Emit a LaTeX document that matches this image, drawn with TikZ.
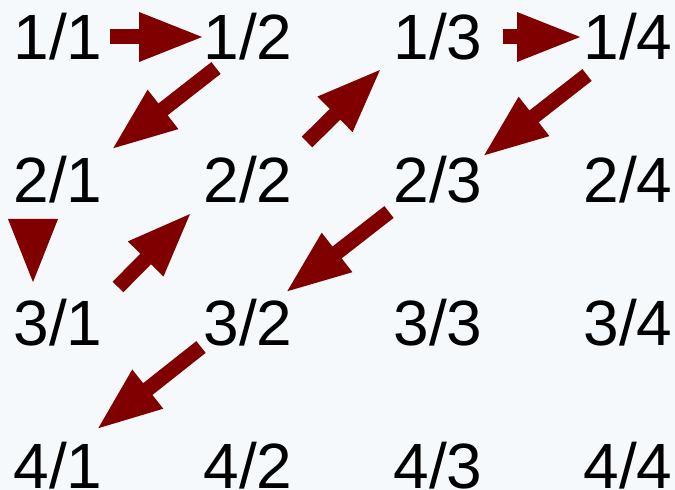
\documentclass[tikz,border=0pt]{standalone}
\usepackage{fontspec}
\setmainfont{Liberation Sans}
\usetikzlibrary{arrows.meta,calc}
\definecolor{arrowred}{RGB}{128,0,0}
\definecolor{paper}{RGB}{245,249,251}
\tikzset{
  frac/.style={inner sep=0pt, font=\fontsize{64}{64}\selectfont},
  blockarrow/.style={draw=arrowred, line width=15pt,
    -{Triangle[width=45pt,length=66pt,fill=arrowred]}}
}
\begin{document}
\begin{tikzpicture}[x=1pt,y=1pt]
        \fill[paper] (0,0) rectangle (675,490);
        \useasboundingbox (0,0) rectangle (675,490);
        \foreach \r in {1,...,4}
          \foreach \c in {1,...,4}
            \node[frac] (n\r\c) at ({58+190*(\c-1)},{453-143*(\r-1)}) {\r/\c};
        \draw[blockarrow] ($(n11)+(52,0)$) -- ($(n12)+(-43,0)$);
        \draw[blockarrow] ($(n12)+(-32,-31)$) -- ($(n21)+(53,30)$);
        \draw[blockarrow] ($(n21)+(-25,-39)$) -- ($(n31)+(-25,38)$);
        \draw[blockarrow] ($(n31)+(60,36)$) -- ($(n22)+(-56,-32)$);
        \draw[blockarrow] ($(n22)+(59,38)$) -- ($(n13)+(-56,-31)$);
        \draw[blockarrow] ($(n13)+(65,0)$) -- ($(n14)+(-45,0)$);
        \draw[blockarrow] ($(n14)+(-41,-38)$) -- ($(n23)+(44,23)$);
        \draw[blockarrow] ($(n23)+(-49,-32)$) -- ($(n32)+(37,30)$);
        \draw[blockarrow] ($(n32)+(-47,-24)$) -- ($(n41)+(38,36)$);
    \end{tikzpicture}
\end{document}
